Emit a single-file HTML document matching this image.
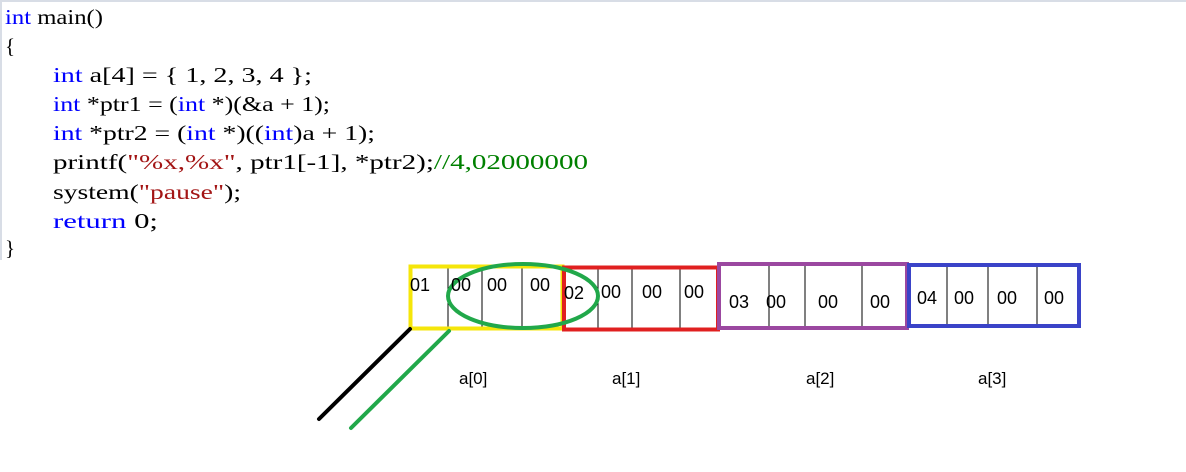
<!DOCTYPE html>
<html><head><style>
html,body{margin:0;padding:0;background:#fff;}
svg{display:block;}
</style></head><body>
<svg width="1186" height="472" xmlns="http://www.w3.org/2000/svg">
<rect x="0" y="0" width="1186" height="472" fill="#fff"/>
<line x1="0" y1="1" x2="1186" y2="1" stroke="#d8dde6" stroke-width="2"/>
<line x1="1" y1="0" x2="1" y2="260" stroke="#d8dde6" stroke-width="2"/>
<g font-family="'Liberation Serif','Noto Serif CJK SC',serif" font-size="21">
<text x="5" y="24" textLength="98" lengthAdjust="spacingAndGlyphs"><tspan fill="#0000ff">int</tspan> main()</text>
<text x="5" y="53">{</text>
<text x="53" y="82" textLength="259" lengthAdjust="spacingAndGlyphs"><tspan fill="#0000ff">int</tspan> a[4] = { 1, 2, 3, 4 };</text>
<text x="53" y="111" textLength="277" lengthAdjust="spacingAndGlyphs"><tspan fill="#0000ff">int</tspan> *ptr1 = (<tspan fill="#0000ff">int</tspan> *)(&amp;a + 1);</text>
<text x="53" y="140" textLength="322" lengthAdjust="spacingAndGlyphs"><tspan fill="#0000ff">int</tspan> *ptr2 = (<tspan fill="#0000ff">int</tspan> *)((<tspan fill="#0000ff">int</tspan>)a + 1);</text>
<text x="53" y="169" textLength="535" lengthAdjust="spacingAndGlyphs">printf(<tspan fill="#a31515">"%x,%x"</tspan>, ptr1[-1], *ptr2);<tspan fill="#008000">//4,02000000</tspan></text>
<text x="53" y="199" textLength="188" lengthAdjust="spacingAndGlyphs">system(<tspan fill="#a31515">"pause"</tspan>);</text>
<text x="53" y="228" textLength="105" lengthAdjust="spacingAndGlyphs"><tspan fill="#0000ff">return</tspan> 0;</text>
<text x="5" y="255">}</text>
</g>
<g stroke="#000" stroke-width="1">
<line x1="448" y1="266" x2="448" y2="330"/><line x1="482" y1="266" x2="482" y2="330"/><line x1="522" y1="266" x2="522" y2="330"/>
<line x1="598" y1="267" x2="598" y2="330"/><line x1="632" y1="267" x2="632" y2="330"/><line x1="680" y1="267" x2="680" y2="330"/>
<line x1="769" y1="264" x2="769" y2="328"/><line x1="805" y1="264" x2="805" y2="328"/><line x1="862" y1="264" x2="862" y2="328"/>
<line x1="947" y1="265" x2="947" y2="327"/><line x1="988" y1="265" x2="988" y2="327"/><line x1="1037" y1="265" x2="1037" y2="327"/>
</g>
<rect x="410.5" y="266.5" width="152" height="62" fill="none" stroke="#f5e60a" stroke-width="4"/>
<rect x="564" y="267.5" width="154" height="62" fill="none" stroke="#e02020" stroke-width="4"/>
<rect x="719" y="264" width="188" height="64" fill="none" stroke="#9b48a0" stroke-width="4"/>
<rect x="909" y="265" width="170" height="61" fill="none" stroke="#3a43c8" stroke-width="4"/>
<ellipse cx="523" cy="296" rx="75" ry="32" fill="none" stroke="#21a84a" stroke-width="4"/>
<line x1="410" y1="329" x2="319" y2="419" stroke="#000" stroke-width="4" stroke-linecap="round"/>
<line x1="449" y1="331" x2="351" y2="428" stroke="#21a84a" stroke-width="4" stroke-linecap="round"/>
<g font-family="'Liberation Sans',sans-serif" font-size="18" fill="#000">
<text x="410" y="291">01</text><text x="451" y="291">00</text><text x="487" y="291">00</text><text x="530" y="291">00</text>
<text x="564" y="299">02</text><text x="601" y="298">00</text><text x="642" y="298">00</text><text x="684" y="298">00</text>
<text x="729" y="308">03</text><text x="766" y="308">00</text><text x="818" y="308">00</text><text x="870" y="308">00</text>
<text x="917" y="304">04</text><text x="954" y="304">00</text><text x="997" y="304">00</text><text x="1044" y="304">00</text>
</g>
<g font-family="'Liberation Sans',sans-serif" font-size="17" fill="#000">
<text x="459" y="384">a[0]</text><text x="612" y="384">a[1]</text><text x="806" y="384">a[2]</text><text x="978" y="384">a[3]</text>
</g>
</svg>
</body></html>
